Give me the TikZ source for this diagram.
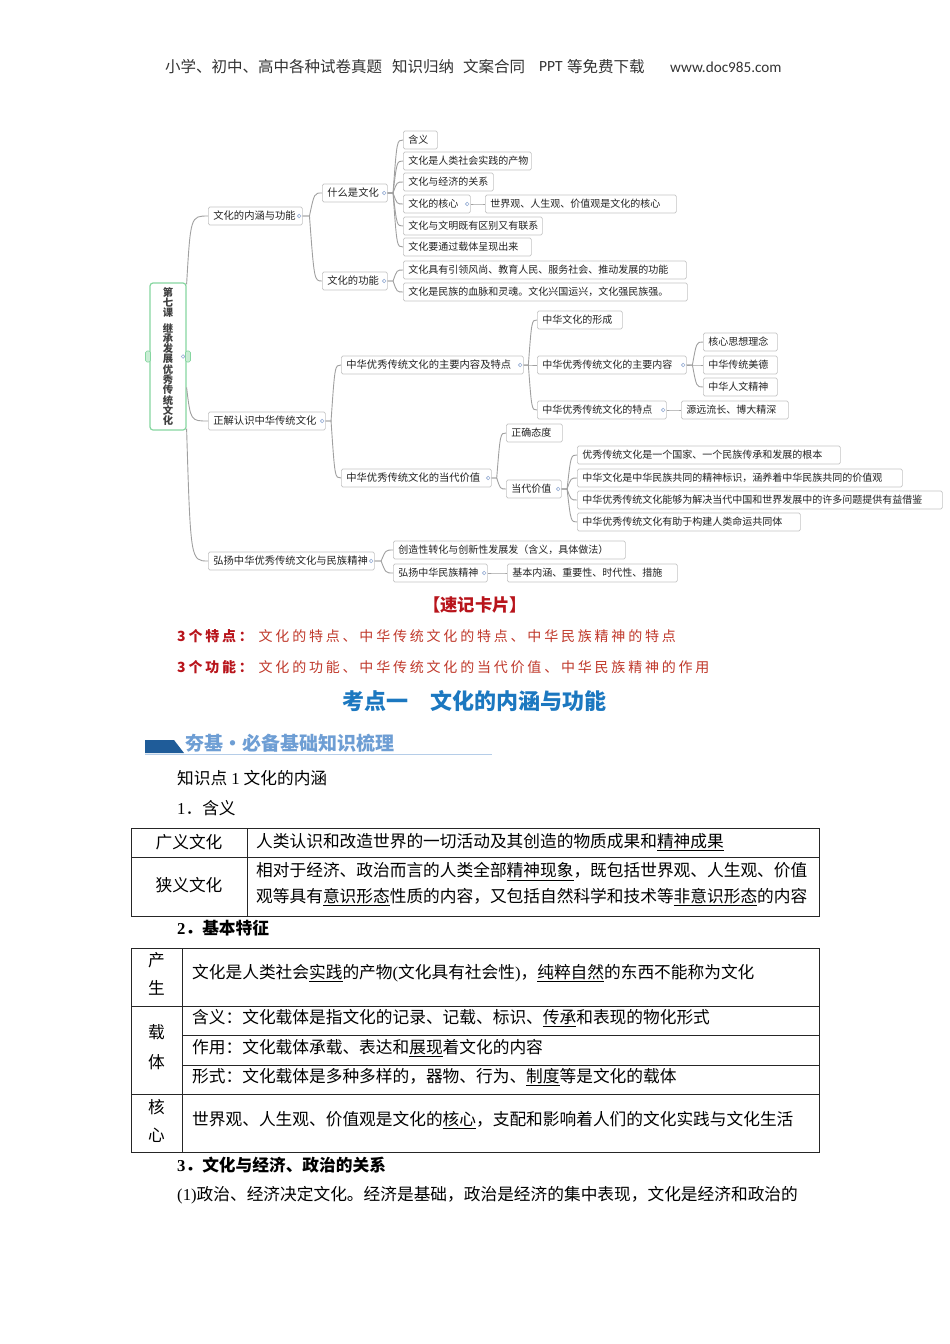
\documentclass[tikz,border=0pt]{standalone}
\usepackage{fontspec}
\setmainfont{Noto Sans CJK SC}
\newfontfamily\cjkls[LetterSpace=20]{Noto Sans CJK SC}
\newfontfamily\ser{Liberation Serif}
\newfontfamily\carl{Carlito}
\usetikzlibrary{calc}
\definecolor{mmline}{HTML}{A0A0A0}
\definecolor{mmborder}{HTML}{C4C4C4}
\definecolor{mmtext}{HTML}{222222}
\definecolor{rootgreen}{HTML}{86D6A0}
\definecolor{dotblue}{HTML}{9AB0D6}
\definecolor{cardred}{HTML}{B8141B}
\definecolor{cardtext}{HTML}{C0392B}
\definecolor{kdblue}{HTML}{1C78C0}
\definecolor{bannerdark}{HTML}{1F5C99}
\definecolor{bannertext}{HTML}{6E9ED4}
\definecolor{bannerline}{HTML}{B5CDE8}
\definecolor{headgray}{HTML}{333333}
\newcommand\mm[6][mmleaf]{\node[#1,minimum width=#5pt] (#2) at (#3,#4) {\makebox[\dimexpr#5pt-10pt\relax][l]{#6}};}
\newcommand\knob[1]{\draw[knob] ($(#1.east)+(-3.5pt,0pt)$) circle[radius=1.8pt];}
\begin{document}
\begin{tikzpicture}[x=1pt,y=-1pt,
  mmbox/.style={draw=mmborder, fill=white, rounded corners=1.5pt, line width=0.7pt, anchor=west,
    inner xsep=5pt, inner ysep=0pt, minimum height=18pt, text=mmtext},
  mmleaf/.style={mmbox, font=\fontsize{10}{11}\selectfont},
  mmmid/.style={mmbox, font=\fontsize{10.3}{11}\selectfont},
  rootbox/.style={draw=rootgreen, fill=white, line width=1.2pt, rounded corners=3pt, minimum width=36pt,
    minimum height=147pt, inner sep=0pt, align=center, text=black!75,
    font=\bfseries\fontsize{10.3}{10.3}\selectfont},
  knob/.style={draw=dotblue, fill=white, line width=0.6pt},
  conn/.style={draw=mmline, line width=0.9pt, to path={let \p1=(\tikztostart), \p2=(\tikztotarget) in
    -- ({\x1+0.35*(\x2-\x1)},\y1) .. controls ({\x1+0.6*(\x2-\x1)},\y2) .. (\p2)}},
  rconn/.style={draw=mmline, line width=0.9pt, to path={let \p1=(\tikztostart), \p2=(\tikztotarget) in
    .. controls (\x1+4pt,\y2) .. (\p2)}},
  head/.style={anchor=west, inner sep=0pt, text=headgray, font=\fontsize{15.5}{16}\selectfont},
  body/.style={anchor=west, inner sep=0pt, text=black, font=\fontsize{16.7}{18}\selectfont},
  cell/.style={anchor=center, inner sep=0pt, text=black, font=\fontsize{16.7}{18}\selectfont},
  tbl/.style={draw=black!85, line width=0.9pt},
  lab/.style={anchor=west, inner sep=0pt, text=cardred, font=\cjkls\bfseries\fontsize{14}{16}\selectfont},
  ctext/.style={anchor=west, inner sep=0pt, text=cardtext, font=\cjkls\fontsize{14}{16}\selectfont}
]
\useasboundingbox (0,0) rectangle (950,1344);
\fill[white] (0,0) rectangle (950,1344);

% ---------- header ----------
\node[head] (h1) at (165,67) {小学、初中、高中各种试卷真题};
\node[head] (h2) at (392,67) {知识归纳};
\node[head] (h3) at (463,67) {文案合同};
\node[head, font=\carl\fontsize{15.5}{16}\selectfont] (h4) at (539,67) {PPT};
\node[head] (h5) at (567,67) {等免费下载};
\node[head, font=\carl\fontsize{15.2}{16}\selectfont] (h6) at (670,67) {www.doc985.com};

% ---------- mind map ----------
\node[rootbox] (root) at (168,356.5) {第\\七\\课\\[5pt]继\\承\\发\\展\\优\\秀\\传\\统\\文\\化};

\mm[mmmid]{l1a}{208}{216}{94}{文化的内涵与功能}
\mm[mmmid]{l1b}{208}{421}{117}{正解认识中华传统文化}
\mm[mmmid]{l1c}{208}{561}{166}{弘扬中华优秀传统文化与民族精神}

\mm[mmmid]{a1}{322}{193}{65}{什么是文化}
\mm[mmmid]{a2}{322}{281}{65}{文化的功能}
\mm[mmmid]{b1}{341}{365}{182}{中华优秀传统文化的主要内容及特点}
\mm[mmmid]{b2}{341}{478}{150}{中华优秀传统文化的当代价值}
\mm{c1}{393}{550}{232}{创造性转化与创新性发展发（含义，具体做法）}
\mm{c2}{393}{573}{94}{弘扬中华民族精神}
\mm{c21}{507}{573}{170}{基本内涵、重要性、时代性、措施}

\mm{a11}{403}{140}{34}{含义}
\mm{a12}{403}{161}{128}{文化是人类社会实践的产物}
\mm{a13}{403}{182}{90}{文化与经济的关系}
\mm{a14}{403}{204}{67}{文化的核心}
\mm{a141}{485}{204}{191}{世界观、人生观、价值观是文化的核心}
\mm{a15}{403}{226}{139}{文化与文明既有区别又有联系}
\mm{a16}{403}{247}{128}{文化要通过载体呈现出来}
\mm{a21}{403}{270}{283}{文化具有引领风尚、教育人民、服务社会、推动发展的功能}
\mm{a22}{403}{292}{284}{文化是民族的血脉和灵魂。文化兴国运兴，文化强民族强。}

\mm{b11}{537}{320}{85}{中华文化的形成}
\mm{b12}{537}{365}{149}{中华优秀传统文化的主要内容}
\mm{b121}{703}{342}{74}{核心思想理念}
\mm{b122}{703}{365}{74}{中华传统美德}
\mm{b123}{703}{387}{74}{中华人文精神}
\mm{b13}{537}{410}{129}{中华优秀传统文化的特点}
\mm{b131}{681}{410}{107}{源远流长、博大精深}
\mm{b21}{506}{433}{56}{正确态度}
\mm{b22}{506}{489}{55}{当代价值}
\mm{b221}{577}{455}{263}{优秀传统文化是一个国家、一个民族传承和发展的根本}
\mm{b222}{577}{478}{325}{中华文化是中华民族共同的精神标识，涵养着中华民族共同的价值观}
\mm{b223}{577}{500}{365}{中华优秀传统文化能够为解决当代中国和世界发展中的许多问题提供有益借鉴}
\mm{b224}{577}{522}{223}{中华优秀传统文化有助于构建人类命运共同体}

% connectors
\draw[rconn] ($(root.north east)+(0,2)$) to (l1a.west);
\draw[rconn] ($(root.east)+(0,31)$) to (l1b.west);
\draw[rconn] ($(root.south east)+(0,-2)$) to (l1c.west);
\foreach \c in {a1,a2} {\draw[conn] (l1a.east) to (\c.west);}
\foreach \c in {a11,a12,a13,a14,a15,a16} {\draw[conn] (a1.east) to (\c.west);}
\draw[conn] (a14.east) to (a141.west);
\foreach \c in {a21,a22} {\draw[conn] (a2.east) to (\c.west);}
\foreach \c in {b1,b2} {\draw[conn] (l1b.east) to (\c.west);}
\foreach \c in {b11,b12,b13} {\draw[conn] (b1.east) to (\c.west);}
\foreach \c in {b121,b122,b123} {\draw[conn] (b12.east) to (\c.west);}
\draw[conn] (b13.east) to (b131.west);
\foreach \c in {b21,b22} {\draw[conn] (b2.east) to (\c.west);}
\foreach \c in {b221,b222,b223,b224} {\draw[conn] (b22.east) to (\c.west);}
\foreach \c in {c1,c2} {\draw[conn] (l1c.east) to (\c.west);}
\draw[conn] (c2.east) to (c21.west);

% root tabs and knobs
\draw[rootgreen, fill=rootgreen!45, line width=0.6pt, rounded corners=1.5pt] (145.5,351) rectangle (150.5,362);
\draw[rootgreen, fill=rootgreen!45, line width=0.6pt, rounded corners=1.5pt] (185.5,351) rectangle (190.5,362);
\knob{root}
\foreach \k in {l1a,l1b,l1c,a1,a2,a14,b1,b2,b12,b13,b22,c2} {\knob{\k}}

% ---------- card ----------
\node[anchor=center, inner sep=0pt, text=cardred, font=\bfseries\fontsize{17.3}{18}\selectfont] (card) at (475,605) {【速记卡片】};
\node[lab] (t1) at (177,635.7) {3个特点：};
\node[ctext] (t1b) at (258.5,635.7) {文化的特点、中华传统文化的特点、中华民族精神的特点};
\node[lab] (t2) at (177,666.7) {3个功能：};
\node[ctext] (t2b) at (258.5,666.7) {文化的功能、中华传统文化的当代价值、中华民族精神的作用};
\node[anchor=center, inner sep=0pt, text=kdblue, font=\bfseries\fontsize{22}{24}\selectfont] (kd) at (474.5,701) {考点一　文化的内涵与功能};

% ---------- banner ----------
\fill[bannerdark] (145,740) -- (174,740) -- (184,753) -- (145,753) -- cycle;
\draw[bannerline, line width=1.2pt] (145,754.5) -- (492,754.5);
\node[anchor=west, inner sep=0pt, text=bannertext, font=\bfseries\fontsize{19}{20}\selectfont] (ban) at (185,743) {夯基·必备基础知识梳理};

% ---------- body ----------
\node[body] (k1) at (177,778) {知识点\hspace{4pt}{\ser 1}\hspace{4pt}文化的内涵};
\node[body] (s1) at (177,808) {{\ser 1}．含义};

% table 1
\draw[tbl] (131,828) rectangle (819,916);
\draw[tbl] (131,857.7) -- (819,857.7);
\draw[tbl] (247,828) -- (247,916);
\node[cell] (g1) at (189,842) {广义文化};
\node[cell] (g2) at (189,885) {狭义文化};
\node[body] (r1) at (256,842) {人类认识和改造世界的一切活动及其创造的物质成果和\underline{精神成果}};
\node[body] (r2) at (256,871.5) {相对于经济、政治而言的人类全部\underline{精神现象}，既包括世界观、人生观、价值};
\node[body] (r3) at (256,897) {观等具有\underline{意识形态}性质的内容，又包括自然科学和技术等\underline{非意识形态}的内容};

\node[body, font=\bfseries\fontsize{16.7}{18}\selectfont] (s2) at (177,928) {{\ser 2}．基本特征};

% table 2
\draw[tbl] (131,948) rectangle (819,1152);
\draw[tbl] (182,948) -- (182,1152);
\draw[tbl] (131,1006) -- (819,1006);
\draw[tbl] (131,1094) -- (819,1094);
\draw[tbl] (182,1035.7) -- (819,1035.7);
\draw[tbl] (182,1065) -- (819,1065);
\node[cell] (p1) at (156.5,960) {产};
\node[cell] (p2) at (156.5,988) {生};
\node[cell] (z1) at (156.5,1032) {载};
\node[cell] (z2) at (156.5,1062) {体};
\node[cell] (h1c) at (156.5,1107) {核};
\node[cell] (h2c) at (156.5,1135) {心};
\node[body] (q1) at (192,973) {文化是人类社会\underline{实践}的产物{\ser (}文化具有社会性{\ser )}，\underline{纯粹自然}的东西不能称为文化};
\node[body] (q2) at (192,1018) {含义：文化载体是指文化的记录、记载、标识、\underline{传承}和表现的物化形式};
\node[body] (q3) at (192,1048) {作用：文化载体承载、表达和\underline{展现}着文化的内容};
\node[body] (q4) at (192,1077) {形式：文化载体是多种多样的，器物、行为、\underline{制度}等是文化的载体};
\node[body] (q5) at (192,1120) {世界观、人生观、价值观是文化的\underline{核心}，支配和影响着人们的文化实践与文化生活};

\node[body, font=\bfseries\fontsize{16.7}{18}\selectfont] (s3) at (177,1165) {{\ser 3}．文化与经济、政治的关系};
\node[body] (p) at (177,1195) {{\ser (1)}政治、经济决定文化。经济是基础，政治是经济的集中表现，文化是经济和政治的};
\end{tikzpicture}
\end{document}
